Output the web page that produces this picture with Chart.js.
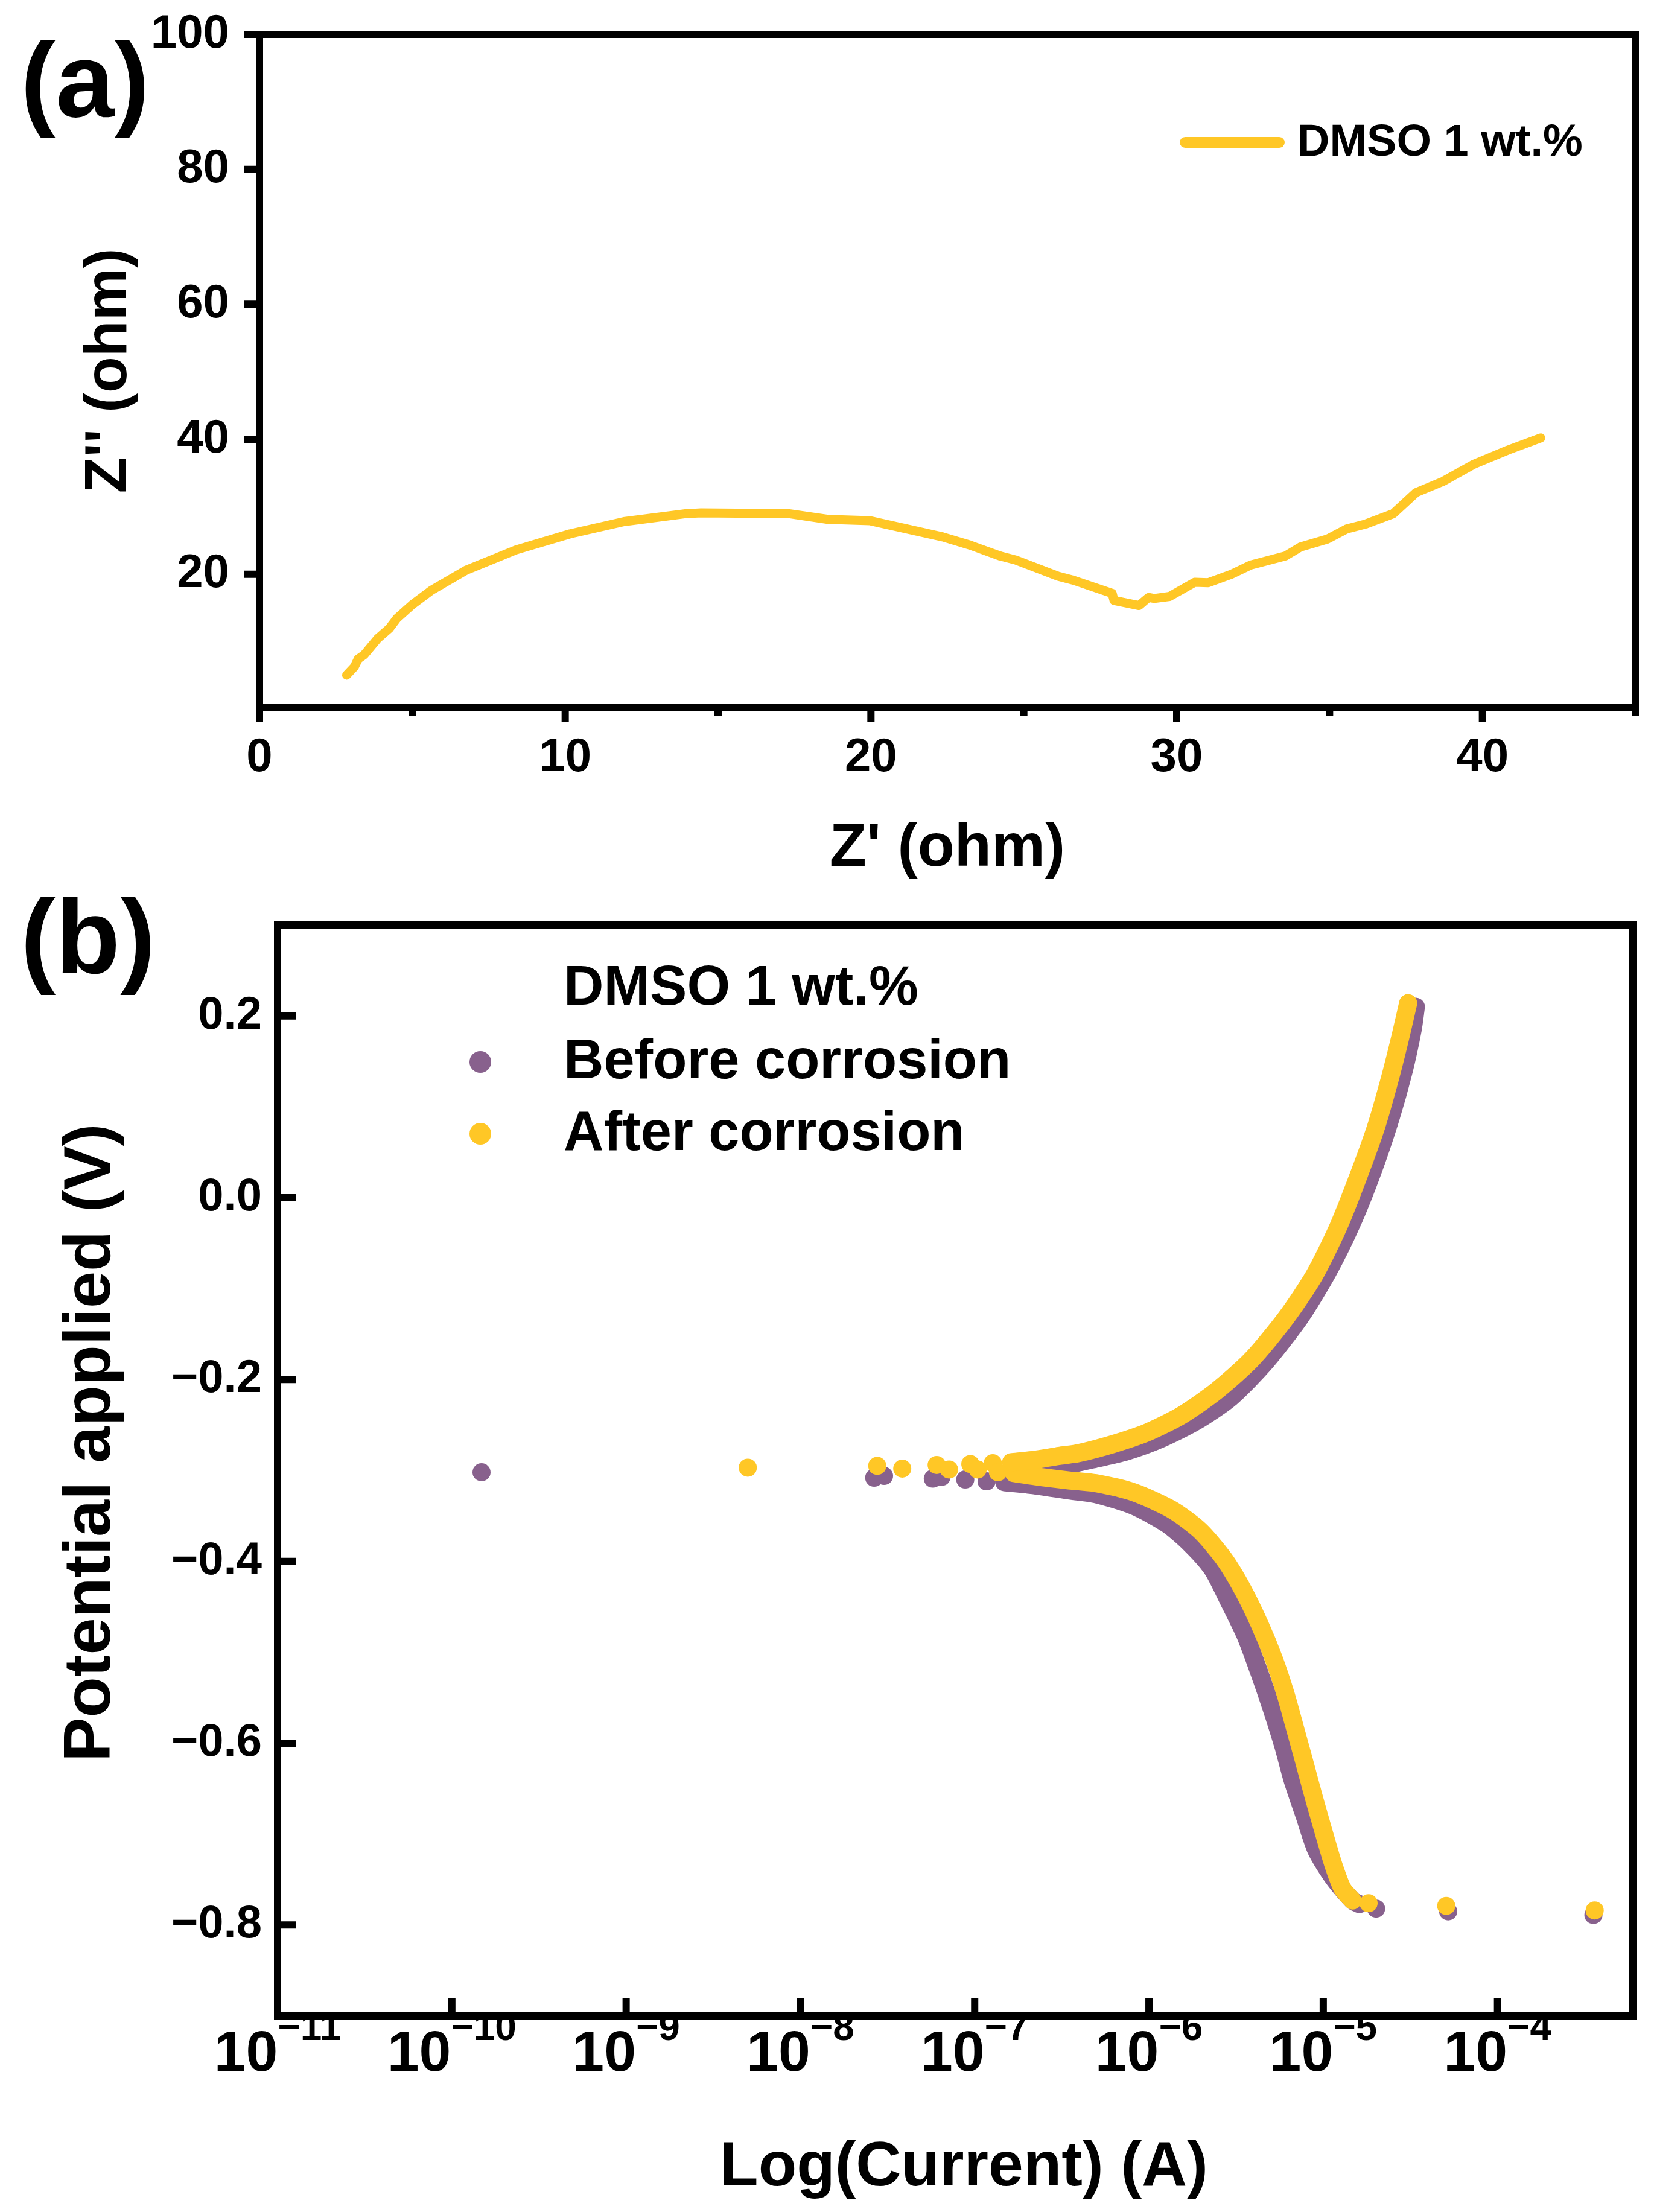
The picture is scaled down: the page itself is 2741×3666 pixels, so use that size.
<!DOCTYPE html>
<html>
<head>
<meta charset="utf-8">
<title>DMSO 1 wt.% - EIS and Tafel</title>
<script src="https://cdn.jsdelivr.net/npm/chart.js@4.4.1/dist/chart.umd.min.js"></script>
<style>
  html, body { margin: 0; padding: 0; background: #fff; }
  #page { position: relative; width: 2741px; height: 3666px; overflow: hidden; }
  canvas { position: absolute; left: 0; }
  #nyquist { top: 0; }
  #tafel { top: 1450px; }
  .tag { position: absolute; left: 34px; font: bold 175px "Liberation Sans", Arial, sans-serif; line-height: 1; color: #000; }
  #tagA { top: 45px; }
  #tagB { top: 1465px; }
</style>
</head>
<body>
<div id="page">
  <canvas id="nyquist" width="2741" height="1460"></canvas>
  <canvas id="tafel" width="2741" height="2216"></canvas>
  <div class="tag" id="tagA">(a)</div>
  <div class="tag" id="tagB">(b)</div>
</div>
<script>
// (a) Nyquist plot, DMSO 1 wt.%
const zReal = [2.85, 3.1, 3.23, 3.42, 3.86, 4.24, 4.49, 5.0, 5.62, 6.76, 8.39, 10.16, 11.92, 13.93, 14.44,
  17.33, 18.59, 19.98, 21.09, 22.35, 23.23, 24.23, 24.74, 26.12, 26.63, 27.89, 27.95, 28.77, 29.08, 29.27,
  29.77, 30.59, 31.03, 31.79, 32.42, 33.55, 34.05, 34.94, 35.57, 36.2, 37.08, 37.83, 38.71, 39.72, 40.83, 41.91];
const zImag = [5.05, 6.25, 7.44, 8.04, 10.43, 11.93, 13.43, 15.5, 17.6, 20.6, 23.6, 25.98, 27.8, 28.97, 29.1,
  28.97, 28.13, 27.92, 26.8, 25.53, 24.33, 22.69, 22.09, 19.7, 19.1, 17.16, 16.12, 15.36, 16.56, 16.41,
  16.71, 18.81, 18.74, 20.0, 21.35, 22.69, 24.04, 25.23, 26.73, 27.47, 28.97, 32.1, 33.75, 36.3, 38.39, 40.2];
const nyqXTicks = [0, 10, 20, 30, 40];
const nyqXMinor = [5, 15, 25, 35, 45];
const nyqYTicks = [20, 40, 60, 80, 100];

// (b) Tafel plot: current (A) and potential (V)
const beforeDotsI = [1.48e-10, 2.65e-8, 3.02e-8, 5.75e-8, 6.46e-8, 8.83e-8, 1.17e-7, 2.01e-5, 5.21e-5, 3.55e-4];
const beforeDotsV = [-0.302, -0.308, -0.306, -0.309, -0.307, -0.310, -0.312, -0.782, -0.785, -0.789];
const beforeAnodeI = [1.78e-7, 2.99e-7, 4.72e-7, 7.45e-7, 1.18e-6, 1.86e-6, 2.94e-6, 4.66e-6, 7.35e-6,
  1.06e-5, 1.46e-5, 1.92e-5, 2.42e-5, 2.90e-5, 3.26e-5, 3.40e-5];
const beforeAnodeV = [-0.303, -0.296, -0.288, -0.279, -0.265, -0.246, -0.220, -0.181, -0.132,
  -0.082, -0.028, 0.029, 0.086, 0.140, 0.185, 0.210];
const beforeCathodeI = [1.48e-7, 2.12e-7, 3.48e-7, 4.93e-7, 8.17e-7, 1.27e-6, 1.73e-6, 2.30e-6, 2.86e-6,
  3.57e-6, 4.31e-6, 5.04e-6, 5.90e-6, 6.68e-6, 7.82e-6, 9.14e-6, 1.14e-5, 1.47e-5, 1.61e-5];
const beforeCathodeV = [-0.313, -0.316, -0.322, -0.326, -0.339, -0.359, -0.381, -0.408, -0.443,
  -0.481, -0.523, -0.561, -0.603, -0.641, -0.680, -0.718, -0.748, -0.773, -0.777];

const afterDotsI = [4.99e-9, 2.76e-8, 3.84e-8, 6.05e-8, 7.13e-8, 9.44e-8, 1.04e-7, 1.27e-7, 1.36e-7,
  1.82e-5, 5.08e-5, 3.61e-4];
const afterDotsV = [-0.297, -0.295, -0.298, -0.294, -0.299, -0.293, -0.299, -0.292, -0.302,
  -0.776, -0.779, -0.784];
const afterAnodeI = [1.62e-7, 2.27e-7, 3.06e-7, 3.94e-7, 6.21e-7, 9.82e-7, 1.55e-6, 2.46e-6, 3.88e-6,
  6.12e-6, 8.85e-6, 1.22e-5, 1.60e-5, 2.01e-5, 2.42e-5, 2.78e-5, 3.07e-5];
const afterAnodeV = [-0.291, -0.288, -0.284, -0.281, -0.271, -0.258, -0.239, -0.212, -0.178,
  -0.132, -0.086, -0.032, 0.025, 0.078, 0.132, 0.178, 0.214];
const afterCathodeI = [1.68e-7, 2.34e-7, 3.48e-7, 4.93e-7, 8.17e-7, 1.35e-6, 1.96e-6, 2.69e-6, 3.45e-6,
  4.31e-6, 5.20e-6, 6.08e-6, 6.90e-6, 7.82e-6, 8.87e-6, 1.01e-5, 1.14e-5, 1.29e-5, 1.47e-5];
const afterCathodeV = [-0.303, -0.307, -0.311, -0.314, -0.324, -0.343, -0.366, -0.397, -0.431,
  -0.469, -0.507, -0.546, -0.584, -0.622, -0.661, -0.699, -0.733, -0.760, -0.773];

const tafelExponents = [-11, -10, -9, -8, -7, -6, -5, -4];
const tafelYTicks = [-0.8, -0.6, -0.4, -0.2, 0.0, 0.2];

const INK = '#000';
const YELLOW = '#FFC726';
const PURPLE = '#88618D';
const FONT = '"Liberation Sans", Arial, sans-serif';

Chart.defaults.font.family = FONT;
Chart.defaults.font.weight = 'bold';
Chart.defaults.color = INK;

const pts = (xs, ys) => xs.map((x, i) => ({ x: x, y: ys[i] }));
const minus = s => s.replace('-', '\u2212');

// fixed axis box sizes, no extra padding for edge labels
const fixHeight = h => s => { s.height = h; s.paddingLeft = 0; s.paddingRight = 0; };
const fixWidth = w => s => { s.width = w; s.paddingTop = 0; s.paddingBottom = 0; };

function drawFrame(chart, width) {
  const { ctx, chartArea: a } = chart;
  ctx.save();
  ctx.strokeStyle = INK;
  ctx.lineWidth = width;
  ctx.strokeRect(a.left, a.top, a.right - a.left, a.bottom - a.top);
  ctx.restore();
}

function drawTickMarks(chart, axis, values, len, width, inward) {
  const { ctx, chartArea: a } = chart;
  const scale = chart.scales[axis];
  ctx.save();
  ctx.strokeStyle = INK;
  ctx.lineWidth = width;
  ctx.beginPath();
  values.forEach(v => {
    const p = scale.getPixelForValue(v);
    if (axis === 'x') {
      ctx.moveTo(p, a.bottom);
      ctx.lineTo(p, inward ? a.bottom - len : a.bottom + len);
    } else {
      ctx.moveTo(a.left, p);
      ctx.lineTo(inward ? a.left + len : a.left - len, p);
    }
  });
  ctx.stroke();
  ctx.restore();
}

const nyquistDecor = {
  id: 'nyquistDecor',
  afterDraw(chart) {
    const ctx = chart.ctx;
    drawTickMarks(chart, 'x', nyqXTicks, 25, 12, false);
    drawTickMarks(chart, 'x', nyqXMinor, 14, 12, false);
    drawTickMarks(chart, 'y', nyqYTicks, 25, 12, false);
    drawFrame(chart, 12);

    // legend: line sample + label
    const ds = chart.data.datasets[0];
    ctx.save();
    ctx.strokeStyle = ds.borderColor;
    ctx.lineWidth = 18;
    ctx.lineCap = 'round';
    ctx.beginPath();
    ctx.moveTo(1964, 236);
    ctx.lineTo(2120, 236);
    ctx.stroke();
    ctx.fillStyle = INK;
    ctx.font = 'bold 74px ' + FONT;
    ctx.textBaseline = 'middle';
    ctx.fillText(ds.label, 2150, 238);
    ctx.restore();
  }
};

new Chart(document.getElementById('nyquist'), {
  type: 'scatter',
  data: {
    datasets: [{
      label: 'DMSO 1 wt.%',
      data: pts(zReal, zImag),
      showLine: true,
      borderColor: YELLOW,
      backgroundColor: YELLOW,
      borderWidth: 15,
      borderCapStyle: 'round',
      borderJoinStyle: 'round',
      pointRadius: 0,
      tension: 0
    }]
  },
  options: {
    responsive: false,
    animation: false,
    devicePixelRatio: 1,
    layout: { padding: { top: 57, right: 31, left: 0, bottom: 0 } },
    plugins: { legend: { display: false }, tooltip: { enabled: false } },
    scales: {
      x: {
        type: 'linear', min: 0, max: 45,
        afterBuildTicks: s => { s.ticks = nyqXTicks.map(v => ({ value: v })); },
        afterFit: fixHeight(1460 - 1172),
        grid: { display: false, drawTicks: false },
        border: { display: false },
        ticks: { padding: 38, font: { size: 78, weight: 'bold' } },
        title: { display: true, text: "Z' (ohm)", font: { size: 100, weight: 'bold', lineHeight: 1 }, padding: { top: 0, bottom: 3 } }
      },
      y: {
        type: 'linear', min: 0.3, max: 100,
        afterBuildTicks: s => { s.ticks = nyqYTicks.map(v => ({ value: v })); },
        afterFit: fixWidth(430),
        grid: { display: false, drawTicks: false },
        border: { display: false },
        ticks: { padding: 50, font: { size: 78, weight: 'bold' } },
        title: { display: true, text: "Z'' (ohm)", font: { size: 98, weight: 'bold', lineHeight: 1 }, padding: { top: 133, bottom: 0 } }
      }
    }
  },
  plugins: [nyquistDecor]
});

const tafelDecor = {
  id: 'tafelDecor',
  afterDraw(chart) {
    const ctx = chart.ctx;
    const a = chart.chartArea;
    drawTickMarks(chart, 'x', tafelExponents.map(e => Math.pow(10, e)), 30, 12, true);
    drawTickMarks(chart, 'y', tafelYTicks, 30, 12, true);
    drawFrame(chart, 12);

    // decade labels with superscript exponents
    const sx = chart.scales.x;
    ctx.save();
    ctx.fillStyle = INK;
    ctx.textBaseline = 'alphabetic';
    tafelExponents.forEach(e => {
      const p = sx.getPixelForValue(Math.pow(10, e));
      const sup = minus(String(e));
      ctx.font = 'bold 95px ' + FONT;
      const w1 = ctx.measureText('10').width;
      ctx.font = 'bold 64px ' + FONT;
      const w2 = ctx.measureText(sup).width;
      const x0 = p - (w1 + w2) / 2;
      ctx.font = 'bold 95px ' + FONT;
      ctx.fillText('10', x0, a.bottom + 91);
      ctx.font = 'bold 64px ' + FONT;
      ctx.fillText(sup, x0 + w1, a.bottom + 40);
    });

    // legend: title + point samples
    ctx.font = 'bold 92px ' + FONT;
    ctx.textBaseline = 'middle';
    ctx.fillText('DMSO 1 wt.%', 934, 190);
    const items = chart.data.datasets.filter(d => d.legendRow !== undefined);
    items.forEach(d => {
      const y = 310 + d.legendRow * 119;
      ctx.fillStyle = d.backgroundColor;
      ctx.beginPath();
      ctx.arc(796, y, 18, 0, Math.PI * 2);
      ctx.fill();
      ctx.fillStyle = INK;
      ctx.fillText(d.label, 934, y + 2);
    });
    ctx.restore();
  }
};

const dots = (label, xs, ys, color, row) => ({
  label: label, data: pts(xs, ys), legendRow: row,
  backgroundColor: color, borderColor: color, borderWidth: 0, pointRadius: 15, showLine: false
});
const branch = (label, xs, ys, color) => ({
  label: label, data: pts(xs, ys),
  backgroundColor: color, borderColor: color, borderWidth: 30, pointRadius: 0,
  borderCapStyle: 'round', borderJoinStyle: 'round', showLine: true, tension: 0.25
});

new Chart(document.getElementById('tafel'), {
  type: 'scatter',
  data: {
    datasets: [
      dots('After corrosion', afterDotsI, afterDotsV, YELLOW, 1),
      branch('After corrosion', afterAnodeI, afterAnodeV, YELLOW),
      branch('After corrosion', afterCathodeI, afterCathodeV, YELLOW),
      dots('Before corrosion', beforeDotsI, beforeDotsV, PURPLE, 0),
      branch('Before corrosion', beforeAnodeI, beforeAnodeV, PURPLE),
      branch('Before corrosion', beforeCathodeI, beforeCathodeV, PURPLE)
    ]
  },
  options: {
    responsive: false,
    animation: false,
    devicePixelRatio: 1,
    layout: { padding: { top: 83, right: 35, left: 0, bottom: 0 } },
    plugins: { legend: { display: false }, tooltip: { enabled: false } },
    scales: {
      x: {
        type: 'logarithmic', min: 1e-11, max: 5.98e-4,
        afterBuildTicks: s => { s.ticks = tafelExponents.map(e => ({ value: Math.pow(10, e) })); },
        afterFit: fixHeight(2216 - 1891),
        grid: { display: false, drawTicks: false },
        border: { display: false },
        ticks: { display: false },
        title: { display: true, text: ' Log(Current) (A)', font: { size: 104, weight: 'bold', lineHeight: 1 }, padding: { top: 0, bottom: 21 } }
      },
      y: {
        type: 'linear', min: -0.9, max: 0.3,
        afterBuildTicks: s => { s.ticks = tafelYTicks.map(v => ({ value: v })); },
        afterFit: fixWidth(460),
        grid: { display: false, drawTicks: false },
        border: { display: false },
        ticks: {
          padding: 26,
          font: { size: 76, weight: 'bold' },
          callback: v => minus(v.toFixed(1))
        },
        title: { display: true, text: '   Potential applied (V)', font: { size: 110, weight: 'bold', lineHeight: 1 }, padding: { top: 97, bottom: 0 } }
      }
    }
  },
  plugins: [tafelDecor]
});
</script>
</body>
</html>
